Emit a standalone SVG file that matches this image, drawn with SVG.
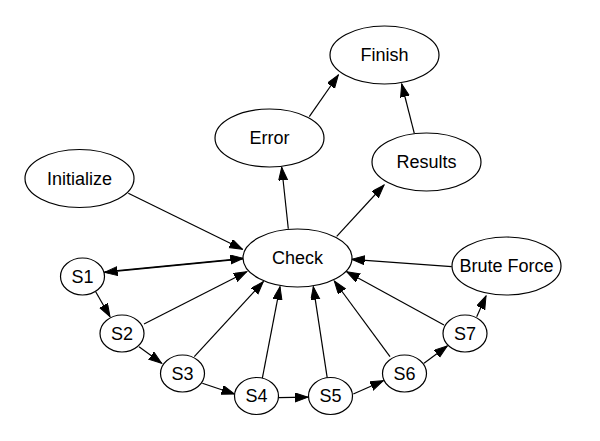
<svg xmlns="http://www.w3.org/2000/svg" width="600" height="441" viewBox="0 0 600 441">
<style>
.n ellipse{fill:#fff;stroke:#000;stroke-width:1.2}
.n text{font-family:"Liberation Sans",Arial,sans-serif;font-size:18px;text-anchor:middle;fill:#000}
.e path{fill:none;stroke:#000;stroke-width:1.2;marker-end:url(#ah)}
</style>
<defs>
<marker id="ah" markerUnits="userSpaceOnUse" markerWidth="14" markerHeight="10" refX="13" refY="4.5" orient="auto" viewBox="0 0 14 10">
<path d="M0,0 L13,4.5 L0,9 z" fill="#000" stroke="#000" stroke-width="1"/>
</marker>
</defs>
<rect width="600" height="441" fill="#fff"/>
<g id="connectors" class="e">
<path d="M128.3,193.3 L242.5,249.3"/>
<path d="M104.5,271.8 L243.3,258.3"/>
<path d="M243.3,258.9 L104.5,272.4"/>
<path d="M288.3,228.7 L281.7,167.3"/>
<path d="M336.7,236.3 L384,185"/>
<path d="M309.3,116.7 L338.3,75"/>
<path d="M414.3,133.3 L401.7,84"/>
<path d="M451.7,266.7 L351.7,259.3"/>
<path d="M95.7,291.7 L110,316.7"/>
<path d="M139,346.7 L161.7,363.3"/>
<path d="M202.3,383.3 L234.5,394"/>
<path d="M278.3,397.7 L308,397.2"/>
<path d="M353.3,394 L383.3,380.7"/>
<path d="M424,363.3 L447.3,346"/>
<path d="M476.7,316.7 L486,296"/>
<path d="M144,324 L246.7,271.7"/>
<path d="M194.3,356.7 L263.3,281.7"/>
<path d="M262.3,378.3 L280,286.7"/>
<path d="M327.3,378.3 L313.3,286.7"/>
<path d="M390,356.7 L334.3,281"/>
<path d="M444,325 L346.7,271.7"/>
</g>
<g id="Finish" class="n"><ellipse cx="384.5" cy="55" rx="54.5" ry="29"/><text x="384.5" y="61">Finish</text></g>
<g id="Error" class="n"><ellipse cx="269.5" cy="138" rx="54.5" ry="29"/><text x="269.5" y="144">Error</text></g>
<g id="Results" class="n"><ellipse cx="426.5" cy="162" rx="54.5" ry="29"/><text x="426.5" y="168">Results</text></g>
<g id="Initialize" class="n"><ellipse cx="79.5" cy="178.5" rx="54.5" ry="29"/><text x="79.5" y="184.5">Initialize</text></g>
<g id="Check" class="n"><ellipse cx="297.5" cy="258" rx="54.5" ry="29"/><text x="297.5" y="264">Check</text></g>
<g id="BruteForce" class="n"><ellipse cx="506.5" cy="266" rx="54.5" ry="29"/><text x="506.5" y="272">Brute Force</text></g>
<g id="S1" class="n"><ellipse cx="82.5" cy="276.5" rx="22" ry="18.5"/><text x="82.5" y="282.5">S1</text></g>
<g id="S2" class="n"><ellipse cx="122" cy="333.5" rx="22" ry="18.5"/><text x="122" y="339.5">S2</text></g>
<g id="S3" class="n"><ellipse cx="182.5" cy="373.5" rx="22" ry="18.5"/><text x="182.5" y="379.5">S3</text></g>
<g id="S4" class="n"><ellipse cx="256.5" cy="396" rx="22" ry="18.5"/><text x="256.5" y="402">S4</text></g>
<g id="S5" class="n"><ellipse cx="330.5" cy="396" rx="22" ry="18.5"/><text x="330.5" y="402">S5</text></g>
<g id="S6" class="n"><ellipse cx="404.5" cy="373.5" rx="22" ry="18.5"/><text x="404.5" y="379.5">S6</text></g>
<g id="S7" class="n"><ellipse cx="465" cy="333.5" rx="22" ry="18.5"/><text x="465" y="339.5">S7</text></g>
</svg>
